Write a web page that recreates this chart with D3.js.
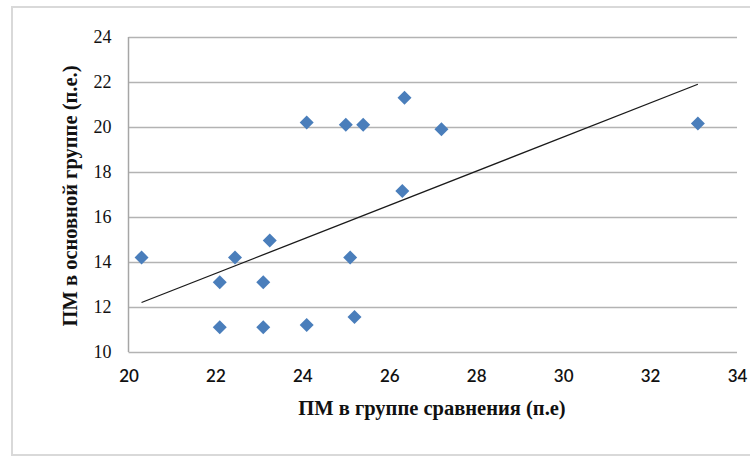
<!DOCTYPE html>
<html>
<head>
<meta charset="utf-8">
<script src="https://cdn.jsdelivr.net/npm/d3@7"></script>
<style>
  body { margin: 0; background: #fff; }
  svg { display: block; }
</style>
</head>
<body>
<div id="chart"></div>
<script>
// ПМ values
const groupCompare = [20.3, 22.1, 22.1, 22.45, 23.1, 23.1, 23.25, 24.1, 24.1, 25.0, 25.1, 25.2, 25.4, 26.35, 27.2, 26.3, 33.1];
const groupMain    = [14.2, 13.1, 11.1, 14.2, 13.1, 11.1, 14.95, 20.2, 11.2, 20.1, 14.2, 11.55, 20.1, 21.3, 19.9, 17.15, 20.15];
// linear trend line ends as seen in the chart
const trendX = [20.3, 33.1];
const trendY = [12.2, 21.9];
const xTicks = [20, 22, 24, 26, 28, 30, 32, 34];
const yTicks = [10, 12, 14, 16, 18, 20, 22, 24];
const xTitle = "ПМ в группе сравнения (п.е)";
const yTitle = "ПМ в основной группе (п.е.)";

const width = 750, height = 456;
const margin = {top: 37, right: 13, bottom: 104, left: 128.5};

const svg = d3.select("#chart").append("svg")
    .attr("width", width)
    .attr("height", height);

// outer chart frame
svg.append("rect")
    .attr("x", 12).attr("y", 7)
    .attr("width", width + 10).attr("height", 448)
    .attr("fill", "none")
    .attr("stroke", "#d9d9d9")
    .attr("stroke-width", 2);

const x = d3.scaleLinear().domain([20, 34]).range([margin.left, width - margin.right]);
const y = d3.scaleLinear().domain([10, 24]).range([height - margin.bottom, margin.top]);

// horizontal gridlines
svg.append("g")
    .attr("transform", `translate(${margin.left},0)`)
    .call(d3.axisLeft(y).tickValues(yTicks).tickSize(-(width - margin.right - margin.left)).tickFormat(""))
    .call(g => g.select(".domain").remove())
    .call(g => g.selectAll("line").attr("stroke", "#b3b3b3").attr("stroke-width", 1.5));

// y axis line + labels
svg.append("line")
    .attr("x1", margin.left).attr("x2", margin.left)
    .attr("y1", y(24)).attr("y2", y(10))
    .attr("stroke", "#a6a6a6").attr("stroke-width", 1.5);

svg.append("g")
    .attr("transform", `translate(${margin.left},0)`)
    .call(d3.axisLeft(y).tickValues(yTicks).tickSize(0).tickPadding(17))
    .call(g => g.select(".domain").remove())
    .call(g => g.selectAll("text")
        .attr("font-family", "'Liberation Serif', 'Times New Roman', serif")
        .attr("font-size", 18)
        .attr("fill", "#111"));

// x axis labels
svg.append("g")
    .attr("transform", `translate(0,${y(10)})`)
    .call(d3.axisBottom(x).tickValues(xTicks).tickSize(0).tickPadding(18))
    .call(g => g.select(".domain").remove())
    .call(g => g.selectAll("text")
        .attr("font-family", "Lato, 'Open Sans', sans-serif")
        .attr("font-size", 17)
        .attr("font-weight", 600)
        .attr("fill", "#111"));

// trend line
svg.append("path")
    .datum(d3.zip(trendX, trendY))
    .attr("d", d3.line().x(d => x(d[0])).y(d => y(d[1])))
    .attr("fill", "none")
    .attr("stroke", "#1a1a1a")
    .attr("stroke-width", 1.3);

// diamonds
const diamond = d3.symbol().type(d3.symbolSquare).size(98);
svg.append("g")
    .selectAll("path")
    .data(d3.zip(groupCompare, groupMain))
    .join("path")
    .attr("d", diamond)
    .attr("transform", d => `translate(${x(d[0])},${y(d[1])}) rotate(45)`)
    .attr("fill", "#4a7ebb");

// axis titles
svg.append("text")
    .attr("x", 432).attr("y", 415)
    .attr("text-anchor", "middle")
    .attr("font-family", "'Liberation Serif', 'Times New Roman', serif")
    .attr("font-weight", "bold")
    .attr("font-size", 20.5)
    .attr("fill", "#111")
    .text(xTitle);

svg.append("text")
    .attr("transform", "translate(77,196) rotate(-90)")
    .attr("text-anchor", "middle")
    .attr("font-family", "'Liberation Serif', 'Times New Roman', serif")
    .attr("font-weight", "bold")
    .attr("font-size", 20.5)
    .attr("fill", "#111")
    .text(yTitle);
</script>
</body>
</html>
